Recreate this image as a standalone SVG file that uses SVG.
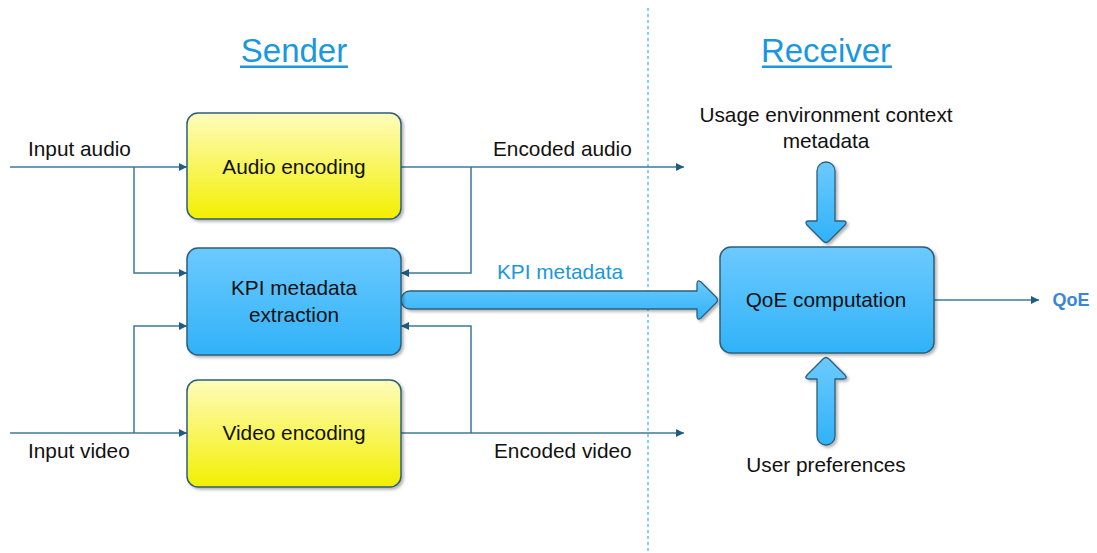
<svg xmlns="http://www.w3.org/2000/svg" width="1097" height="553" viewBox="0 0 1097 553">
<style>
  .t { font-family: "Liberation Sans", Arial, sans-serif; font-size: 20.8px; fill: #111; }
  .title { font-family: "Liberation Sans", Arial, sans-serif; font-size: 33px; fill: #1a97e0; }
  .ln { fill: none; stroke: #3d7a98; stroke-width: 1.5; }
  .box { stroke: #2c5f7c; stroke-width: 1.5; filter: url(#sh); }
  .fat { fill: url(#gb); stroke: #2c5f7c; stroke-width: 1.3; stroke-linejoin: round; filter: url(#sh); }
</style>
<defs>
  <linearGradient id="gy" x1="0" y1="0" x2="0" y2="1">
    <stop offset="0" stop-color="#fffcbc"/>
    <stop offset="1" stop-color="#f2ef00"/>
  </linearGradient>
  <linearGradient id="gb" x1="0" y1="0" x2="0" y2="1">
    <stop offset="0" stop-color="#6ccafe"/>
    <stop offset="1" stop-color="#30b2f8"/>
  </linearGradient>
  <filter id="sh" x="-10%" y="-10%" width="125%" height="125%">
    <feDropShadow dx="2" dy="2" stdDeviation="1.5" flood-color="#000" flood-opacity="0.3"/>
  </filter>
  <marker id="ah" viewBox="0 0 10 10" refX="10" refY="5" markerWidth="10" markerHeight="8" markerUnits="userSpaceOnUse" orient="auto">
    <path d="M0,0 L10,5 L0,10 Z" fill="#1f5c80"/>
  </marker>
</defs>

<line x1="648" y1="8" x2="648" y2="553" stroke="#30b8f0" stroke-width="1.2" stroke-dasharray="3,3"/>

<g id="title-sender">
  <text class="title" x="294" y="62" text-anchor="middle">Sender</text>
  <rect x="240" y="65.5" width="108" height="2.5" fill="#1a97e0"/>
</g>
<g id="title-receiver">
  <text class="title" x="826" y="62" text-anchor="middle">Receiver</text>
  <rect x="762" y="65.5" width="130" height="2.5" fill="#1a97e0"/>
</g>

<g id="connectors">
  <path class="ln" d="M10,167 H187" marker-end="url(#ah)"/>
  <path class="ln" d="M134,167 V273 H187" marker-end="url(#ah)"/>
  <path class="ln" d="M10,433 H187" marker-end="url(#ah)"/>
  <path class="ln" d="M134,433 V326 H187" marker-end="url(#ah)"/>
  <path class="ln" d="M401,167 H684" marker-end="url(#ah)"/>
  <path class="ln" d="M471,167 V273 H401" marker-end="url(#ah)"/>
  <path class="ln" d="M401,433 H684" marker-end="url(#ah)"/>
  <path class="ln" d="M471,433 V326 H401" marker-end="url(#ah)"/>
  <path class="ln" d="M934,300 H1039" marker-end="url(#ah)"/>
  <path class="fat" d="M410,291 L697,291 L697,284 Q697,279 701,282 L716,297 Q719,300 716,303 L701,318 Q697,321 697,316 L697,309 L410,309 A9,9 0 0 1 410,291 Z"/>
  <path class="fat" d="M817,171 A9,9 0 0 1 835,171 L835,221 L843,221 Q848,221 845,225 L829,241 Q826,244 823,241 L807,225 Q804,221 809,221 L817,221 Z"/>
  <path class="fat" d="M817,379 L809,379 Q804,379 807,375 L823,359 Q826,356 829,359 L845,375 Q848,379 843,379 L835,379 L835,436 A9,9 0 0 1 817,436 Z"/>
</g>

<g id="label-input-audio"><text class="t" x="28" y="156">Input audio</text></g>
<g id="label-encoded-audio"><text class="t" x="493" y="156">Encoded audio</text></g>
<g id="label-input-video"><text class="t" x="28" y="458">Input video</text></g>
<g id="label-encoded-video"><text class="t" x="494" y="458">Encoded video</text></g>
<g id="label-kpi"><text class="t" x="560" y="279" text-anchor="middle" style="fill:#1a97e0">KPI metadata</text></g>
<g id="label-usage">
  <text class="t" x="826" y="122" text-anchor="middle">Usage environment context</text>
  <text class="t" x="826" y="148" text-anchor="middle">metadata</text>
</g>
<g id="label-user"><text class="t" x="826" y="472" text-anchor="middle">User preferences</text></g>
<g id="label-qoe"><text x="1071" y="306" text-anchor="middle" style="font-family:'Liberation Sans',Arial,sans-serif;font-size:18px;font-weight:bold;fill:#3a86d4">QoE</text></g>

<g id="audio-encoding">
  <rect class="box" x="187" y="113" width="214" height="106" rx="11" fill="url(#gy)"/>
  <text class="t" x="294" y="174" text-anchor="middle">Audio encoding</text>
</g>
<g id="kpi-extraction">
  <rect class="box" x="187" y="248" width="214" height="107" rx="11" fill="url(#gb)"/>
  <text class="t" x="294" y="295" text-anchor="middle">KPI metadata</text>
  <text class="t" x="294" y="322" text-anchor="middle">extraction</text>
</g>
<g id="video-encoding">
  <rect class="box" x="187" y="380" width="214" height="107" rx="11" fill="url(#gy)"/>
  <text class="t" x="294" y="440" text-anchor="middle">Video encoding</text>
</g>
<g id="qoe-computation">
  <rect class="box" x="720" y="247" width="214" height="106" rx="11" fill="url(#gb)"/>
  <text class="t" x="826" y="307" text-anchor="middle">QoE computation</text>
</g>
</svg>
